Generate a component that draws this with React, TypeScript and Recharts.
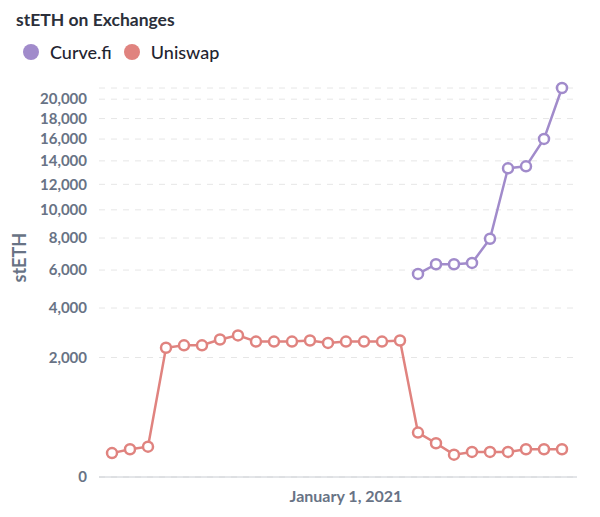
import { LineChart, Line, XAxis, YAxis, CartesianGrid } from 'recharts';

const dates = [
  '2020-10-02', '2020-10-09', '2020-10-16', '2020-10-23', '2020-10-30', '2020-11-06',
  '2020-11-13', '2020-11-20', '2020-11-27', '2020-12-04', '2020-12-11', '2020-12-18',
  '2020-12-25', '2021-01-01', '2021-01-08', '2021-01-15', '2021-01-22', '2021-01-29',
  '2021-02-05', '2021-02-12', '2021-02-19', '2021-02-26', '2021-03-05', '2021-03-12',
  '2021-03-19', '2021-03-26',
];

const uniswap = [
  80, 108, 129, 2340, 2430, 2430, 2650, 2810, 2570, 2570, 2570, 2610, 2520,
  2570, 2570, 2570, 2610, 276, 160, 70, 88, 88, 88, 108, 108, 108,
];

const curve = [
  null, null, null, null, null, null, null, null, null, null, null, null, null,
  null, null, null, null, 5780, 6340, 6340, 6420, 7950, 13350, 13520, 16010, 21200,
];

const yTicks = [0, 2000, 4000, 6000, 8000, 10000, 12000, 14000, 16000, 18000, 20000];

const PURPLE = '#a18bcb';
const RED = '#e0837f';
const AXIS_TEXT = '#687385';

const data = dates.map((d, i) => ({ date: d, uniswap: uniswap[i], curve: curve[i] }));

const fmtDate = (d: string) => {
  const [y, m, day] = d.split('-').map(Number);
  const months = ['January', 'February', 'March', 'April', 'May', 'June', 'July',
    'August', 'September', 'October', 'November', 'December'];
  return `${months[m - 1]} ${day}, ${y}`;
};

const legendItems = [
  { name: 'Curve.fi', color: PURPLE },
  { name: 'Uniswap', color: RED },
];

export default function App() {
  return (
    <div style={{ position: 'absolute', left: 0, top: 0, width: 600, height: 517, fontFamily: 'Lato, sans-serif', background: '#fff' }}>
      <div style={{ position: 'absolute', left: 16, top: 9, fontSize: 17.5, fontWeight: 700, color: '#2b2f3a' }}>
        stETH on Exchanges
      </div>
      <div style={{ position: 'absolute', left: 23, top: 41, display: 'flex', alignItems: 'center' }}>
        {legendItems.map((it) => (
          <div key={it.name} style={{ display: 'flex', alignItems: 'center', marginRight: 12 }}>
            <span style={{ width: 16, height: 16, borderRadius: 8, background: it.color, display: 'inline-block', marginRight: 11 }} />
            <span style={{ fontSize: 18, fontWeight: 500, color: '#1f2430' }}>{it.name}</span>
          </div>
        ))}
      </div>
      <LineChart width={600} height={517} data={data} margin={{ top: 88, right: 23, bottom: 0, left: 0 }}>
        <CartesianGrid vertical={false} stroke="#e6e6e6" strokeDasharray="6 6" />
        <XAxis
          dataKey="date"
          type="category"
          ticks={['2021-01-01']}
          tickFormatter={fmtDate}
          interval={0}
          height={40}
          padding={{ left: 13, right: 15 }}
          tickLine={false}
          axisLine={{ stroke: '#c8ccd2' }}
          tick={{ fill: AXIS_TEXT, fontSize: 16, fontWeight: 700 }}
          tickMargin={8}
        />
        <YAxis
          type="number"
          scale="sqrt"
          domain={[0, 'dataMax']}
          ticks={yTicks}
          interval={0}
          width={99}
          axisLine={false}
          tickLine={false}
          tickMargin={6}
          tickFormatter={(v: number) => v.toLocaleString('en-US')}
          tick={{ fill: AXIS_TEXT, fontSize: 15, fontWeight: 700 }}
          label={{ value: 'stETH', angle: -90, position: 'insideLeft', offset: 20, fill: AXIS_TEXT, fontSize: 18, fontWeight: 700 }}
        />
        <Line
          type="linear"
          dataKey="uniswap"
          stroke={RED}
          strokeWidth={2.5}
          dot={{ r: 5, fill: '#fff', stroke: RED, strokeWidth: 2.5 }}
          isAnimationActive={false}
        />
        <Line
          type="linear"
          dataKey="curve"
          stroke={PURPLE}
          strokeWidth={2.5}
          dot={{ r: 5, fill: '#fff', stroke: PURPLE, strokeWidth: 2.5 }}
          isAnimationActive={false}
        />
      </LineChart>
    </div>
  );
}
